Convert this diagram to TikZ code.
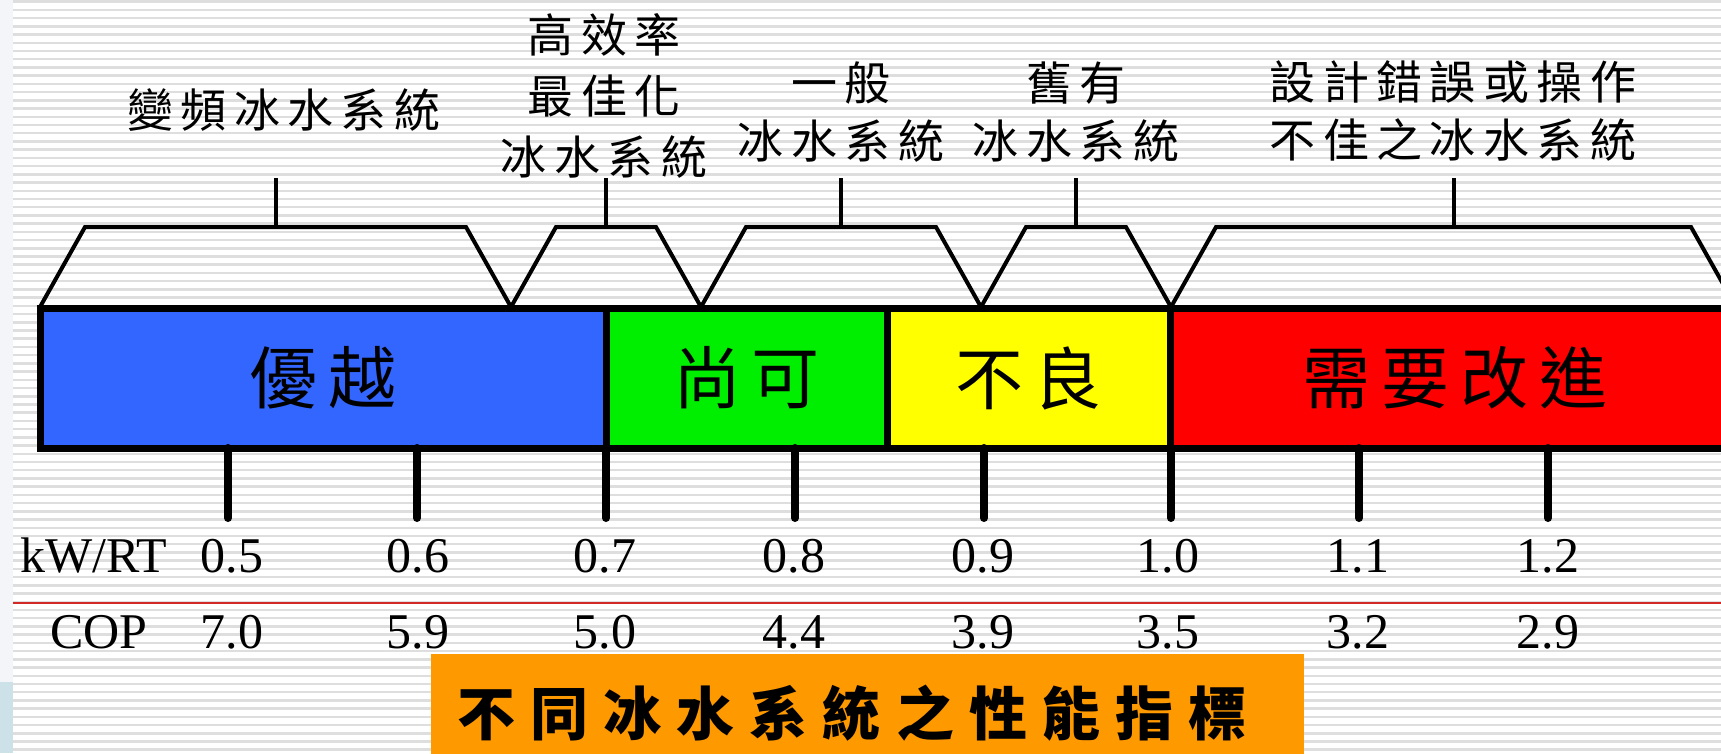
\documentclass[tikz,border=0pt]{standalone}
\usepackage{fontspec}
\setmainfont{Liberation Serif}
\newfontfamily\cjk[LetterSpace=16]{Noto Sans CJK TC}
\newfontfamily\cjkwide[LetterSpace=26]{Noto Sans CJK TC}

\definecolor{barblue}{RGB}{51,102,255}
\definecolor{bargreen}{RGB}{0,238,0}
\definecolor{baryellow}{RGB}{255,255,0}
\definecolor{barred}{RGB}{255,0,0}
\definecolor{titleorange}{RGB}{255,153,0}
\definecolor{stripe}{RGB}{222,222,222}
\definecolor{slideedge}{RGB}{243,245,248}
\definecolor{slidecloud}{RGB}{205,225,232}
\definecolor{copline}{RGB}{210,40,40}

\tikzset{
  seg/.style={draw, line width=7pt, minimum height=140pt, outer sep=0pt, inner sep=0pt,
    font=\cjk\fontsize{68}{74}\selectfont},
  kind/.style={font=\cjk\fontsize{46}{58}\selectfont, align=center},
  num/.style={font=\fontsize{50}{56}\selectfont, anchor=base},
  trapline/.style={line width=4pt, line join=miter},
  scaletick/.style={line width=8pt, line cap=round},
}

\begin{document}
\begin{tikzpicture}[x=1pt,y=-1pt]

\useasboundingbox (0,0) rectangle (1721,753);

% slide background
\fill[white] (0,0) rectangle (1721,753);
\fill[slideedge] (0,0) rectangle (13,753);
\fill[slidecloud] (0,682) rectangle (13,753);
\foreach \k in {0,...,91}
  \draw[stripe, line width=2.5pt] (13,1.7+8.22*\k) -- (1721,1.7+8.22*\k);

% system brackets
\foreach \a/\b in {40/511, 511/701, 701/981, 981/1171, 1171/1736} {
  \draw[trapline] (\a,307) -- (\a+45,227) -- (\b-45,227) -- (\b,307);
  \draw[trapline] ({(\a+\b)/2},227) -- ({(\a+\b)/2},178);
}

\node[kind] (vfd) at (284,110) {變頻冰水系統};
\node[kind] (hiopt) at (604,96) {高效率\\[3pt]最佳化\\[3pt]冰水系統};
\node[kind] (general) at (841,112) {一般\\冰水系統};
\node[kind] (old) at (1076,112) {舊有\\冰水系統};
\node[kind] (poor) at (1453,111) {設計錯誤或操作\\不佳之冰水系統};

% grade bar
\node[seg, fill=barblue, minimum width=566pt] (excellent) at (323,378) {優越};
\node[seg, fill=bargreen, minimum width=281pt] (fair) at (746.5,378) {尚可};
\node[seg, fill=baryellow, minimum width=283pt] (bad) at (1028.5,378) {不良};
\node[seg, fill=barred, minimum width=570pt] (improve) at (1455,378) {需要改進};

% scale
\foreach \x in {228,417,606,795,984,1171,1359,1548}
  \draw[scaletick] (\x,448) -- (\x,518);

\draw[copline, line width=2.5pt] (13,603) -- (1721,603);

\node[num, anchor=base west] (kwlabel) at (17,572) {kW/RT};
\node[num, anchor=base west] (coplabel) at (47,648) {COP};
\foreach \x/\kw/\cop [count=\i] in {232/0.5/7.0, 418/0.6/5.9, 605/0.7/5.0, 794/0.8/4.4,
    983/0.9/3.9, 1168/1.0/3.5, 1358/1.1/3.2, 1548/1.2/2.9} {
  \node[num] (kw\i) at (\x,572) {\kw};
  \node[num] (cop\i) at (\x,648) {\cop};
}

% title
\fill[titleorange] (431,654) rectangle (1304,760);
\node[font=\cjkwide\bfseries\fontsize{58}{64}\selectfont] (title) at (852,713) {不同冰水系統之性能指標};

\end{tikzpicture}
\end{document}
